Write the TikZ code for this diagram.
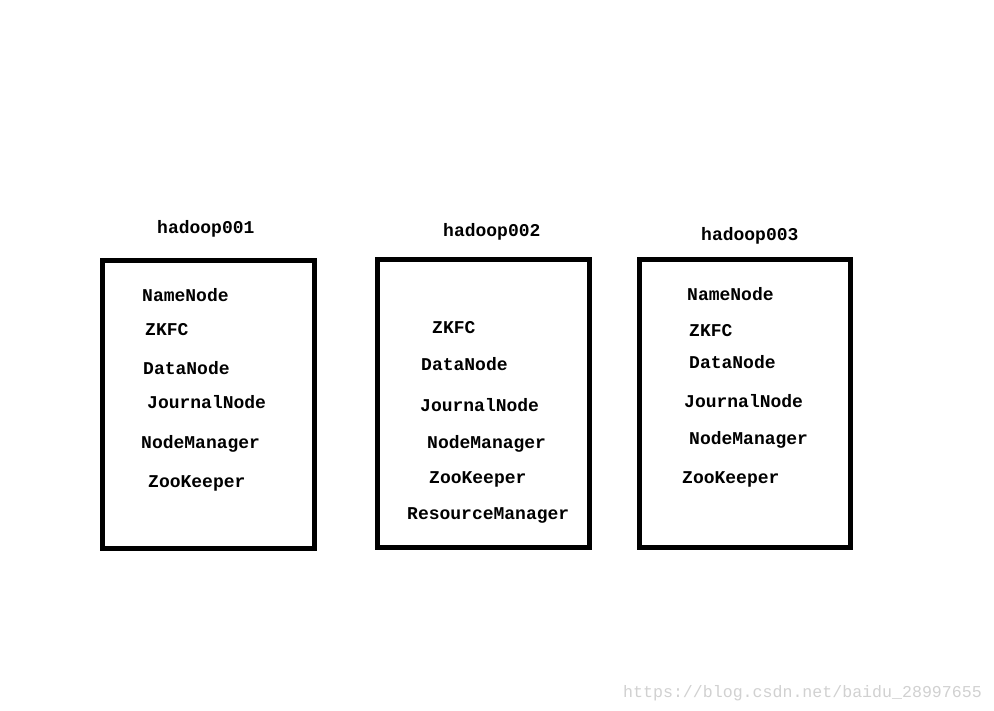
\documentclass[tikz,border=0pt]{standalone}
\usepackage{fontspec}
\setmonofont{Liberation Mono}
\begin{document}
\begin{tikzpicture}[x=1pt,y=-1pt,
  box/.style={draw=black,line width=5pt},
  lbl/.style={anchor=base west,inner sep=0pt,font=\ttfamily\bfseries\fontsize{18}{20}\selectfont},
  wm/.style={anchor=base west,inner sep=0pt,text=black!18,font=\ttfamily\fontsize{16.6}{18}\selectfont}]
\useasboundingbox[fill=white] (0,0) rectangle (994,711);
% boxes
\draw[box] (102.5,261) rectangle (314,548);
\draw[box] (377.5,259.5) rectangle (589,547.5);
\draw[box] (639,260) rectangle (850,547);
% titles
\node[lbl] (t1) at (157,234) {hadoop001};
\node[lbl] (t2) at (443,237) {hadoop002};
\node[lbl] (t3) at (701,241) {hadoop003};
% box 1
\node[lbl] (a1) at (142,302) {NameNode};
\node[lbl] (a2) at (145,336) {ZKFC};
\node[lbl] (a3) at (143,375) {DataNode};
\node[lbl] (a4) at (147,409) {JournalNode};
\node[lbl] (a5) at (141,449) {NodeManager};
\node[lbl] (a6) at (148,487) {ZooKeeper};
% box 2
\node[lbl] (b1) at (432,334) {ZKFC};
\node[lbl] (b2) at (421,371) {DataNode};
\node[lbl] (b3) at (420,411) {JournalNode};
\node[lbl] (b4) at (427,448) {NodeManager};
\node[lbl] (b5) at (429,483) {ZooKeeper};
\node[lbl] (b6) at (407,519) {ResourceManager};
% box 3
\node[lbl] (c1) at (687,301) {NameNode};
\node[lbl] (c2) at (689,337) {ZKFC};
\node[lbl] (c3) at (689,369) {DataNode};
\node[lbl] (c4) at (684,407) {JournalNode};
\node[lbl] (c5) at (689,444) {NodeManager};
\node[lbl] (c6) at (682,483) {ZooKeeper};
% watermark
\node[wm] (w) at (623,697) {https://blog.csdn.net/baidu\_28997655};
\end{tikzpicture}
\end{document}
